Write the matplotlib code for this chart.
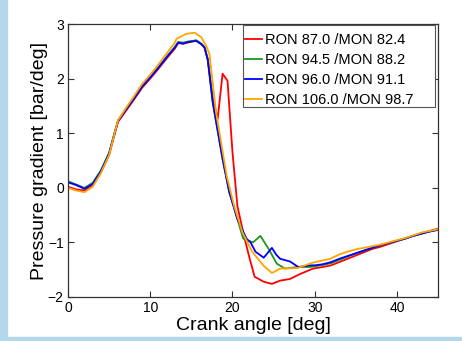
import numpy as np
import matplotlib
matplotlib.use('Agg')
import matplotlib.pyplot as plt
from matplotlib.patches import Rectangle

plt.rcParams['font.family'] = ['Liberation Sans', 'DejaVu Sans']

LABELS = ['RON 87.0 /MON 82.4', 'RON 94.5 /MON 88.2', 'RON 96.0 /MON 91.1', 'RON 106.0 /MON 98.7']
COLORS = ['#ff0000', '#1f961f', '#0000ff', '#ffa500']

# crank angle [deg] / pressure gradient [bar/deg]
red_x = [0, 1, 2, 3, 4, 5, 5.7, 6.1, 7, 8, 9, 10, 11, 12, 13, 13.4, 14, 14.6, 15.6, 16.2, 16.6, 17, 17.6,
         18.2, 18.8, 19.4, 20, 20.6, 21.4, 22.1, 22.7, 23.8, 24.8, 25.8, 27, 28.2, 29.8, 31, 32, 33, 34,
         35, 36, 37, 38, 39, 40, 41, 42, 43, 44, 45]
red_y = [0.02, -0.03, -0.05, 0.04, 0.28, 0.6, 1.0, 1.21, 1.4, 1.61, 1.83, 2.0, 2.18, 2.37, 2.55, 2.65,
         2.64, 2.66, 2.7, 2.64, 2.57, 2.35, 1.65, 1.26, 2.09, 1.96, 0.66, -0.33, -0.88, -1.3, -1.63,
         -1.72, -1.76, -1.7, -1.67, -1.58, -1.48, -1.45, -1.42, -1.36, -1.3, -1.24, -1.18, -1.12, -1.08,
         -1.03, -0.98, -0.93, -0.88, -0.83, -0.79, -0.75]

green_x = [0, 1, 2, 3, 4, 5, 5.7, 6.1, 7, 8, 9, 10, 11, 12, 13, 13.4, 14, 14.6, 15.6, 16.2, 16.6, 17,
           17.6, 18.8, 19.6, 20.6, 21.3, 22.5, 23.4, 24.4, 25.4, 26.4, 27.9, 29.5, 30.7, 32, 33, 34, 35,
           36, 37, 38, 39, 40, 41, 42, 43, 44, 45]
green_y = [0.12, 0.06, 0.0, 0.09, 0.32, 0.64, 1.03, 1.24, 1.43, 1.64, 1.86, 2.03, 2.21, 2.4, 2.58, 2.67,
           2.66, 2.68, 2.7, 2.64, 2.58, 2.36, 1.57, 0.53, -0.07, -0.57, -0.93, -1.0, -0.88, -1.12, -1.39,
           -1.48, -1.45, -1.45, -1.42, -1.38, -1.32, -1.26, -1.2, -1.15, -1.1, -1.05, -1.01, -0.97, -0.93,
           -0.88, -0.84, -0.8, -0.77]

blue_x = [0, 1, 2, 3, 4, 5, 5.7, 6.1, 7, 8, 9, 10, 11, 12, 13, 13.4, 14, 14.6, 15.6, 16.2, 16.6, 17, 17.6,
          18.8, 19.6, 20.6, 21.7, 22.2, 22.8, 23.8, 24.8, 25.3, 25.8, 27, 28, 29.5, 30, 31, 32, 33, 34,
          35, 36, 37, 38, 39, 40, 41, 42, 43, 44, 45]
blue_y = [0.1, 0.05, -0.02, 0.07, 0.3, 0.63, 1.02, 1.23, 1.42, 1.63, 1.85, 2.02, 2.2, 2.39, 2.57, 2.66,
          2.64, 2.67, 2.69, 2.63, 2.57, 2.34, 1.57, 0.53, -0.07, -0.57, -0.93, -1.0, -1.17, -1.28, -1.1,
          -1.22, -1.3, -1.35, -1.45, -1.42, -1.42, -1.4, -1.36, -1.3, -1.25, -1.2, -1.15, -1.1, -1.05,
          -1.01, -0.97, -0.93, -0.88, -0.84, -0.8, -0.77]

orange_x = [0, 1, 2, 3, 4, 5, 5.7, 6.1, 7, 8, 9, 10, 11, 12, 13, 13.2, 14.4, 15.4, 16.2, 16.8, 17.2, 18,
            19.3, 20.2, 21.2, 22.4, 23.8, 24.8, 25.8, 27.9, 29.8, 31.9, 33, 34, 35.2, 36, 37, 38, 39, 40,
            41, 42, 43, 44, 45]
orange_y = [0.0, -0.05, -0.08, 0.02, 0.27, 0.6, 1.02, 1.24, 1.45, 1.67, 1.9, 2.07, 2.26, 2.46, 2.66, 2.73,
            2.82, 2.84, 2.76, 2.6, 2.45, 1.39, 0.22, -0.33, -0.81, -1.17, -1.43, -1.56, -1.48, -1.47,
            -1.37, -1.3, -1.22, -1.17, -1.12, -1.1, -1.07, -1.04, -1.0, -0.96, -0.92, -0.87, -0.82, -0.79,
            -0.76]

fig = plt.figure(figsize=(4.62, 3.41), dpi=100)
# light blue frame strips on the left and bottom
fig.patches.append(Rectangle((0, 0), 7 / 462, 1, transform=fig.transFigure, color='#b3d8ec', zorder=0))
fig.patches.append(Rectangle((0, 0), 1, 4 / 341, transform=fig.transFigure, color='#b3d8ec', zorder=0))

ax = fig.add_axes([68 / 462, 44 / 341, 370 / 462, 273 / 341])
series = [(red_x, red_y), (green_x, green_y), (blue_x, blue_y), (orange_x, orange_y)]
for (xs, ys), c, lab in zip(series, COLORS, LABELS):
    ax.plot(xs, ys, color=c, lw=1.3, label=lab)

ax.set_xlim(0, 45)
ax.set_ylim(-2, 3)
ax.set_xticks([0, 10, 20, 30, 40])
ax.set_yticks([-2, -1, 0, 1, 2, 3])
ax.tick_params(direction='in', length=4, width=0.8, top=True, right=True, labelsize=10, colors='#333333',
               labelcolor='black', pad=3)
for s in ax.spines.values():
    s.set_color('#333333')
    s.set_linewidth(0.9)
ax.set_xlabel('Crank angle [deg]', fontsize=14, labelpad=1)
ax.set_ylabel('Pressure gradient [bar/deg]', fontsize=14, labelpad=0)

# MATLAB-like legend: box drawn separately, wide right margin
box = Rectangle((0.473, 0.696), 0.519, 0.300, transform=ax.transAxes, facecolor='white',
                edgecolor='#555555', lw=0.8, zorder=4)
ax.add_patch(box)
leg = ax.legend(loc='upper left', bbox_to_anchor=(0.478, 0.968), fontsize=10.5, handlelength=1.2,
                handletextpad=0.2, labelspacing=0.42, borderpad=0, borderaxespad=0, frameon=False)
leg.set_zorder(5)

fig.savefig('out.png', dpi=100)
